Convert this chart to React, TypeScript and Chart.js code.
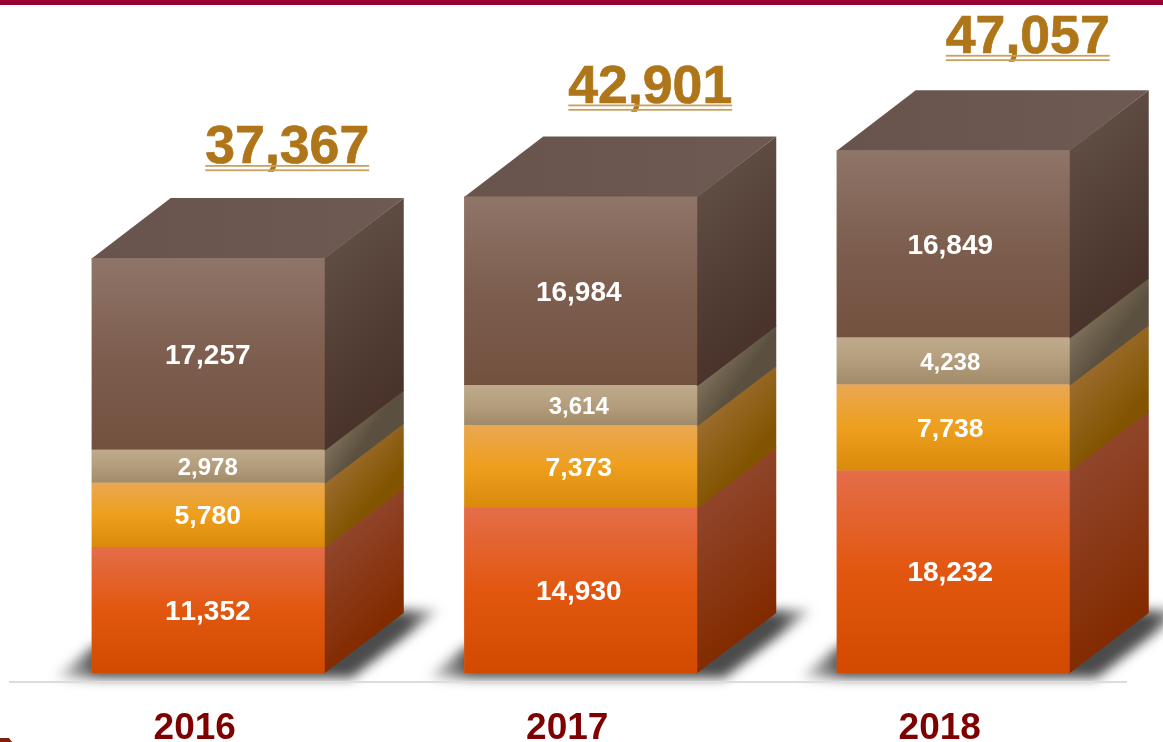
import React, { useEffect, useRef } from "react";
import { Chart, registerables } from "chart.js";

Chart.register(...registerables);

const years = ["2016", "2017", "2018"];
const seriesRed = [11352, 14930, 18232];
const seriesOrange = [5780, 7373, 7738];
const seriesTan = [2978, 3614, 4238];
const seriesBrown = [17257, 16984, 16849];
const totals = [37367, 42901, 47057];

const FONT = '"Liberation Sans", Arial, sans-serif';
const DX = 79;
const DY = -60;

const fmt = (n: number) => n.toLocaleString("en-US");

type Look = {
  front: [string, string, string];
  side: [string, string];
  labelSize: number;
};
const redLook: Look = { front: ["#e46d49", "#e2570f", "#d14a00"], side: ["#90462c", "#832b00"], labelSize: 28 };
const orangeLook: Look = { front: ["#e9a752", "#ee9f1e", "#da8a0a"], side: ["#9b6c2d", "#825400"], labelSize: 26.5 };
const tanLook: Look = { front: ["#bfab8c", "#b39d7c", "#a08a68"], side: ["#7d715a", "#5b4f3f"], labelSize: 24 };
const brownLook: Look = { front: ["#8f7568", "#7d5e4f", "#73513f"], side: ["#5f4c43", "#49332a"], labelSize: 28 };
const looks = [redLook, orangeLook, tanLook, brownLook];
const stacks = [seriesRed, seriesOrange, seriesTan, seriesBrown];

const frontFill = (datasetIndex: number) => (c: any) => {
  const { chart, dataIndex } = c;
  const y = chart.scales?.y;
  const look = looks[datasetIndex];
  if (!y || !chart.ctx) return look.front[1];
  let base = 0;
  for (let i = 0; i < datasetIndex; i++) base += stacks[i][dataIndex];
  const top = base + stacks[datasetIndex][dataIndex];
  const py0 = y.getPixelForValue(top);
  const py1 = y.getPixelForValue(base);
  if (!isFinite(py0) || !isFinite(py1) || py0 === py1) return look.front[1];
  const g = chart.ctx.createLinearGradient(0, py0, 0, py1);
  g.addColorStop(0, look.front[0]);
  g.addColorStop(0.5, look.front[1]);
  g.addColorStop(1, look.front[2]);
  return g;
};

const totalLayout = [
  { shiftX: 0, baseline: 35 },
  { shiftX: -9.5, baseline: 34 },
  { shiftX: -4.5, baseline: 37.5 },
];
const labelShiftX = [-0.5, -2, -3];

const depthPlugin = {
  id: "depth",
  beforeDraw(chart: any) {
    const ctx = chart.ctx;
    ctx.save();
    ctx.fillStyle = "#990033";
    ctx.fillRect(0, 0, chart.width, 5);
    ctx.fillStyle = "#7a2408";
    ctx.beginPath();
    ctx.moveTo(0, 738);
    ctx.lineTo(9, 738);
    ctx.lineTo(12, 742);
    ctx.lineTo(0, 742);
    ctx.closePath();
    ctx.fill();
    ctx.restore();
  },
  beforeDatasetsDraw(chart: any) {
    const ctx = chart.ctx;
    const first = chart.getDatasetMeta(0).data;
    first.forEach((el: any) => {
      const l = el.x - el.width / 2;
      const r = el.x + el.width / 2;
      const b = el.base;
      const span = el.width + DX + 88;
      const g = ctx.createLinearGradient(l - 42, 0, l - 42 + span, 0);
      g.addColorStop(0, "rgba(50,50,50,0)");
      g.addColorStop(48 / span, "rgba(50,50,50,0.88)");
      g.addColorStop((span - 44) / span, "rgba(50,50,50,0.88)");
      g.addColorStop(1, "rgba(50,50,50,0)");
      ctx.save();
      ctx.filter = "blur(6px)";
      ctx.fillStyle = g;
      ctx.beginPath();
      ctx.moveTo(l - 38, b + 5);
      ctx.lineTo(l + 2, b - 27);
      ctx.lineTo(r + DX, b + DY - 3);
      ctx.lineTo(r + DX + 36, b + DY - 3);
      ctx.lineTo(r + 27, b + 5);
      ctx.closePath();
      ctx.fill();
      ctx.restore();
    });
    ctx.save();
    ctx.fillStyle = "#dcdcdc";
    ctx.fillRect(9, chart.chartArea.bottom + 8, 1118, 2);
    ctx.restore();
    chart.data.datasets.forEach((_: any, di: number) => {
      chart.getDatasetMeta(di).data.forEach((el: any) => {
        const l = el.x - el.width / 2;
        const r = el.x + el.width / 2;
        const h = el.base - el.y;
        ctx.fillStyle = looks[di].front[0];
        ctx.fillRect(l, el.y, el.width, h);
        ctx.save();
        ctx.transform(1, DY / DX, 0, 1, r, el.y);
        const g = ctx.createLinearGradient(0, 0, 25, Math.max(h, 30));
        g.addColorStop(0, looks[di].side[0]);
        g.addColorStop(1, looks[di].side[1]);
        ctx.fillStyle = g;
        ctx.fillRect(-1, 0, DX + 1, h + (di === 0 ? 0 : 1));
        ctx.restore();
      });
    });
    const last = chart.data.datasets.length - 1;
    chart.getDatasetMeta(last).data.forEach((el: any) => {
      const l = el.x - el.width / 2;
      const r = el.x + el.width / 2;
      const g = ctx.createLinearGradient(l, 0, r + DX, 0);
      g.addColorStop(0, "#68544c");
      g.addColorStop(1, "#6e5a52");
      ctx.fillStyle = g;
      ctx.beginPath();
      ctx.moveTo(l, el.y + 0.5);
      ctx.lineTo(l + DX, el.y + DY);
      ctx.lineTo(r + DX, el.y + DY);
      ctx.lineTo(r, el.y + 0.5);
      ctx.closePath();
      ctx.fill();
    });
  },
  afterDatasetsDraw(chart: any) {
    const ctx = chart.ctx;
    ctx.save();
    (ctx as any).fontKerning = "none";
    ctx.textAlign = "center";
    ctx.textBaseline = "middle";
    ctx.fillStyle = "#ffffff";
    chart.data.datasets.forEach((ds: any, di: number) => {
      ctx.font = `bold ${looks[di].labelSize}px ${FONT}`;
      chart.getDatasetMeta(di).data.forEach((el: any, i: number) => {
        ctx.fillText(fmt(ds.data[i]), el.x + labelShiftX[i], (el.y + el.base) / 2 + 2);
      });
    });
    const last = chart.data.datasets.length - 1;
    ctx.font = `bold 53.6px ${FONT}`;
    ctx.textBaseline = "alphabetic";
    chart.getDatasetMeta(last).data.forEach((el: any, i: number) => {
      const cx = el.x + DX + totalLayout[i].shiftX;
      const by = el.y + DY - totalLayout[i].baseline;
      const text = fmt(totals[i]);
      ctx.fillStyle = "#af7519";
      ctx.strokeStyle = "#af7519";
      ctx.lineWidth = 0.7;
      ctx.fillText(text, cx, by);
      ctx.strokeText(text, cx, by);
      const w = ctx.measureText(text).width;
      ctx.fillStyle = "#c9a05e";
      ctx.fillRect(cx - w / 2, by + 2, w, 1.8);
      ctx.fillRect(cx - w / 2, by + 6.4, w, 1.8);
    });
    ctx.restore();
  },
};

export default function App() {
  const ref = useRef<HTMLCanvasElement | null>(null);
  useEffect(() => {
    if (!ref.current) return;
    const chart = new Chart(ref.current, {
      type: "bar",
      data: {
        labels: years,
        datasets: stacks.map((data, i) => ({
          data,
          backgroundColor: frontFill(i),
          borderWidth: 0,
          barPercentage: 0.6255,
          categoryPercentage: 1,
        })),
      },
      options: {
        responsive: false,
        animation: false,
        events: [],
        layout: { padding: { left: 22, right: 23.5, top: 6.6, bottom: 0 } },
        plugins: { legend: { display: false }, tooltip: { enabled: false }, title: { display: false } },
        scales: {
          x: {
            stacked: true,
            border: { display: false },
            grid: { display: false, drawTicks: false },
            afterFit(s: any) {
              s.height = 69;
            },
            ticks: {
              color: "#7f0000",
              padding: 34,
              labelOffset: -13.5,
              maxRotation: 0,
              autoSkip: false,
              font: { family: FONT, size: 37, weight: "bold" },
            },
          },
          y: { stacked: true, display: false, min: 0, max: 60000 },
        },
      },
      plugins: [depthPlugin],
    } as any);
    return () => chart.destroy();
  }, []);
  return (
    <div style={{ position: "absolute", left: 0, top: 0, width: 1163, height: 742, background: "#fff" }}>
      <canvas ref={ref} width={1163} height={742} style={{ display: "block" }} />
    </div>
  );
}
